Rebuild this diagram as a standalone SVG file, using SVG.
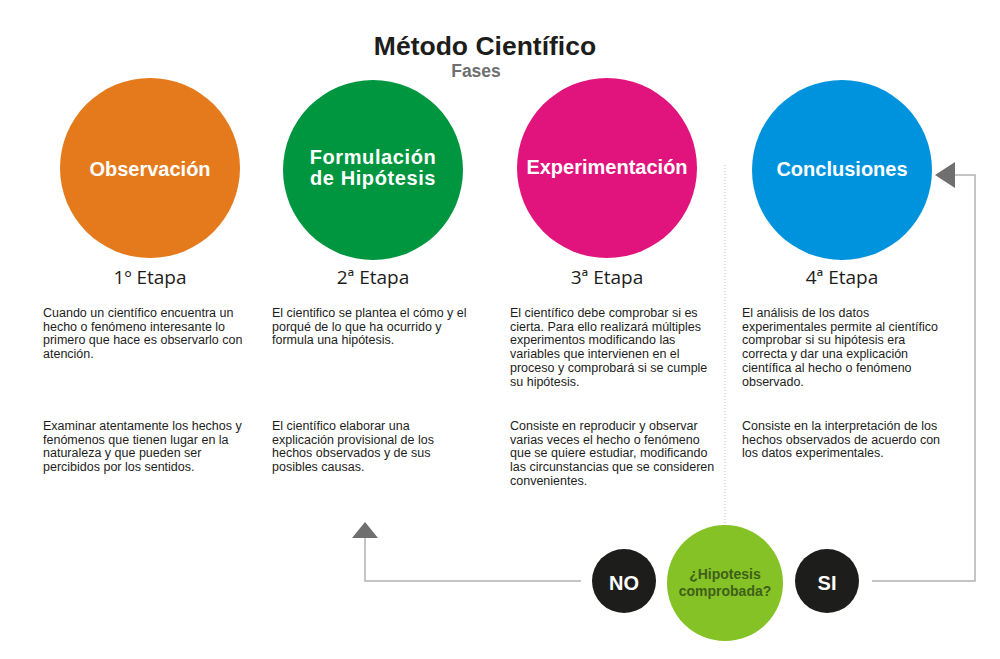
<svg xmlns="http://www.w3.org/2000/svg" width="1000" height="659" viewBox="0 0 1000 659">
<style>
.t{font-family:"Liberation Sans",Arial,sans-serif}
.lbl{font-family:"Liberation Sans",Arial,sans-serif;font-weight:bold;fill:#fff;font-size:20px;text-anchor:middle}
.et{font-family:"Open Sans","Liberation Sans",sans-serif;font-size:19px;fill:#1d1d1b;text-anchor:middle}
.p{font-family:"Liberation Sans",Arial,sans-serif;font-size:12.5px;fill:#1d1d1b}
.ln{fill:none;stroke:#b3b3b3;stroke-width:1.5}
.ah{fill:#6f6f6f}
</style>
<rect width="1000" height="659" fill="#fff"/>
<g id="title">
<text class="t" x="485" y="55" font-size="26.5" font-weight="bold" fill="#1d1d1b" text-anchor="middle">Método Científico</text>
<text class="t" x="476" y="77" font-size="17.5" font-weight="bold" fill="#6f6f6f" text-anchor="middle">Fases</text>
</g>
<g id="connectors">
<line x1="725" y1="165" x2="725" y2="525" stroke="#bdbdbd" stroke-width="1" stroke-dasharray="1,2"/>
<polyline class="ln" points="581,581 365,581 365,538"/>
<polygon class="ah" points="365,522 352,538 378,538"/>
<polyline class="ln" points="872,581 975,581 975,175 955,175"/>
<polygon class="ah" points="935,175 955,162 955,188"/>
</g>
<g id="etapa1">
<circle cx="150" cy="168" r="90" fill="#e57a1c"/>
<text class="lbl" x="150" y="176">Observación</text>
<text class="et" x="150" y="284">1º Etapa</text>
<text class="p"><tspan x="43" y="317">Cuando un científico encuentra un</tspan><tspan x="43" y="330.7">hecho o fenómeno interesante lo</tspan><tspan x="43" y="344.4">primero que hace es observarlo con</tspan><tspan x="43" y="358.1">atención.</tspan></text>
<text class="p"><tspan x="43" y="430">Examinar atentamente los hechos y</tspan><tspan x="43" y="443.7">fenómenos que tienen lugar en la</tspan><tspan x="43" y="457.4">naturaleza y que pueden ser</tspan><tspan x="43" y="471.1">percibidos por los sentidos.</tspan></text>
</g>
<g id="etapa2">
<circle cx="373" cy="170" r="90" fill="#009640"/>
<text class="lbl" font-size="18.5" letter-spacing="0.6"><tspan x="373" y="164">Formulación</tspan><tspan x="373" y="185">de Hipótesis</tspan></text>
<text class="et" x="373" y="284">2ª Etapa</text>
<text class="p"><tspan x="272" y="317">El cientifico se plantea el cómo y el</tspan><tspan x="272" y="330.7">porqué de lo que ha ocurrido y</tspan><tspan x="272" y="344.4">formula una hipótesis.</tspan></text>
<text class="p"><tspan x="272" y="430">El científico elaborar una</tspan><tspan x="272" y="443.7">explicación provisional de los</tspan><tspan x="272" y="457.4">hechos observados y de sus</tspan><tspan x="272" y="471.1">posibles causas.</tspan></text>
</g>
<g id="etapa3">
<circle cx="607" cy="168" r="90" fill="#e0147c"/>
<text class="lbl" x="607" y="174">Experimentación</text>
<text class="et" x="607" y="284">3ª Etapa</text>
<text class="p"><tspan x="510" y="317">El científico debe comprobar si es</tspan><tspan x="510" y="330.7">cierta. Para ello realizará múltiples</tspan><tspan x="510" y="344.4">experimentos modificando las</tspan><tspan x="510" y="358.1">variables que intervienen en el</tspan><tspan x="510" y="371.8">proceso y comprobará si se cumple</tspan><tspan x="510" y="385.5">su hipótesis.</tspan></text>
<text class="p"><tspan x="510" y="430">Consiste en reproducir y observar</tspan><tspan x="510" y="443.7">varias veces el hecho o fenómeno</tspan><tspan x="510" y="457.4">que se quiere estudiar, modificando</tspan><tspan x="510" y="471.1">las circunstancias que se consideren</tspan><tspan x="510" y="484.8">convenientes.</tspan></text>
</g>
<g id="etapa4">
<circle cx="842" cy="170" r="90" fill="#0093dd"/>
<text class="lbl" x="842" y="176">Conclusiones</text>
<text class="et" x="842" y="284">4ª Etapa</text>
<text class="p"><tspan x="742" y="317">El análisis de los datos</tspan><tspan x="742" y="330.7">experimentales permite al científico</tspan><tspan x="742" y="344.4">comprobar si su hipótesis era</tspan><tspan x="742" y="358.1">correcta y dar una explicación</tspan><tspan x="742" y="371.8">científica al hecho o fenómeno</tspan><tspan x="742" y="385.5">observado.</tspan></text>
<text class="p"><tspan x="742" y="430">Consiste en la interpretación de los</tspan><tspan x="742" y="443.7">hechos observados de acuerdo con</tspan><tspan x="742" y="457.4">los datos experimentales.</tspan></text>
</g>
<g id="no">
<circle cx="624" cy="581" r="32" fill="#1d1d1b"/>
<text class="lbl" x="624" y="590" font-size="24">NO</text>
</g>
<g id="decision">
<circle cx="725" cy="583" r="58" fill="#84c225"/>
<text class="t" font-size="14" font-weight="bold" fill="#3f5f1a" text-anchor="middle"><tspan x="725" y="579">¿Hipotesis</tspan><tspan x="725" y="596">comprobada?</tspan></text>
</g>
<g id="si">
<circle cx="827" cy="581" r="32" fill="#1d1d1b"/>
<text class="lbl" x="827" y="590" font-size="24">SI</text>
</g>
</svg>
